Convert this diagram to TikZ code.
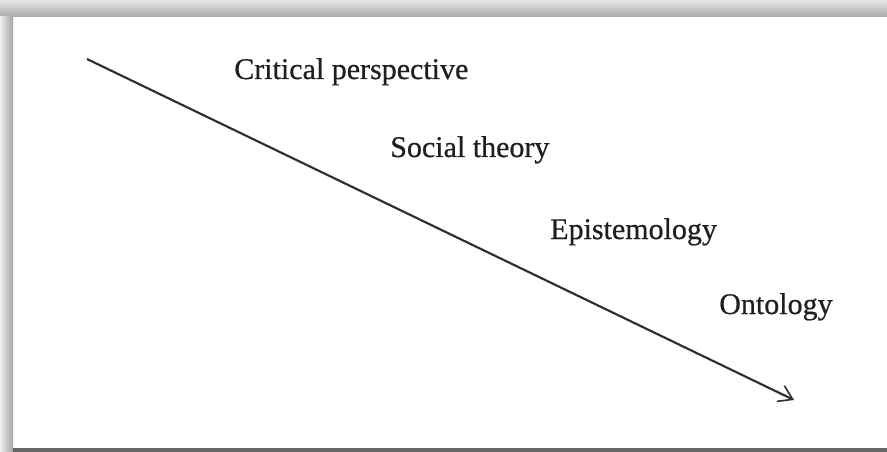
\documentclass[tikz,border=0pt]{standalone}
\usepackage{fontspec}
\setmainfont{Liberation Serif}
\newfontfamily\levelfont[FakeBold=0.6]{Liberation Serif}
\usepackage{tikz}
\usetikzlibrary{arrows.meta,calc}

\tikzset{
	levellabel/.style={anchor=base west, inner sep=0pt, text=black!88, font=\levelfont\fontsize{22.5}{26}\selectfont},
	frameshadow/.style={draw=none}
}

\begin{document}
\begin{tikzpicture}[x=0.75pt, y=-0.75pt, >={Straight Barb[length=10pt, width=13pt, line width=1.2pt]}]
		\useasboundingbox (0,0) rectangle (887,452);
		% page and shadow of the frame
		\fill[white] (0,0) rectangle (887,452);
		\shade[frameshadow, top color=black!10, bottom color=black!34] (0,0) rectangle (887,17);
		\shade[frameshadow, left color=black!6, right color=black!36] (0,17) rectangle (13,452);
		\fill[black!60] (13,448) rectangle (887,452);
		% direction of the levels
		\coordinate (start) at (87,59);
		\coordinate (end) at (794,400);
		\draw[->, line width=1.6pt, black!82] (start) -- (end);
		% levels
		\foreach \name/\x/\y/\lab in {crit/234/79/Critical perspective, soc/390/157/Social theory, epi/550/239/Epistemology, onto/719/314/Ontology} {
			\node[levellabel] (\name) at (\x,\y) {\lab};
		}
	\end{tikzpicture}
\end{document}
